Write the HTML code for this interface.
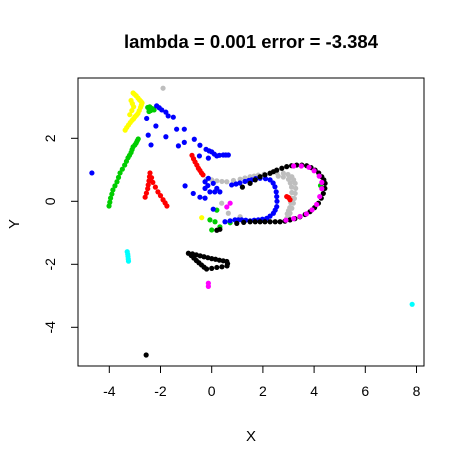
<!DOCTYPE html>
<html><head><meta charset="utf-8"><style>
body{margin:0;background:#fff;}
svg{display:block;font-family:"Liberation Sans",Arial,sans-serif;}
</style></head><body>
<svg id="chart" width="465" height="464">
<text x="251" y="48" text-anchor="middle" font-size="18.5" font-weight="bold">lambda = 0.001 error = -3.384</text>
<rect x="78" y="78" width="346" height="288" fill="none" stroke="#000" stroke-width="1"/>
<g id="xaxis"></g>
<g id="yaxis"></g>
<g id="points"></g>
<text x="251" y="441" text-anchor="middle" font-size="15">X</text>
<text transform="translate(19,224) rotate(-90)" text-anchor="middle" font-size="15">Y</text>
</svg>
<script>
const xTicks=[-4,-2,0,2,4,6,8];
const yTicks=[-4,-2,0,2];
const yellow=[[-3.07,3.44],[-3.02,3.4],[-2.95,3.35],[-2.88,3.28],[-2.82,3.22],[-2.76,3.17],[-2.72,3.12],[-2.75,3.05],[-2.78,2.98],[-2.83,2.88],[-2.88,2.79],[-2.94,2.73],[-3.0,2.68],[-3.05,2.62],[-3.11,2.57],[-3.18,2.5],[-3.25,2.42],[-3.32,2.34],[-3.38,2.26],[-3.15,3.2],[-3.1,3.1],[-3.05,3.0],[-3.12,2.88],[-3.2,2.75],[-0.39,-0.52]];
const green=[[-2.5,2.98],[-2.42,3.0],[-2.35,2.95],[-2.28,2.93],[-2.25,2.9],[-2.45,2.85],[-2.38,2.88],[-2.87,1.98],[-2.91,1.92],[-2.95,1.85],[-3.0,1.79],[-3.07,1.73],[-3.11,1.64],[-3.15,1.55],[-3.21,1.46],[-3.27,1.38],[-3.33,1.27],[-3.4,1.15],[-3.49,1.02],[-3.58,0.9],[-3.64,0.76],[-3.7,0.62],[-3.78,0.49],[-3.86,0.36],[-3.9,0.23],[-3.95,0.1],[-3.98,-0.03],[-4.01,-0.15],[0.2,-0.28],[-0.07,-0.59],[0.13,-0.65],[0.72,-0.68],[0,-0.91],[0.32,-0.81],[1.9,-0.62],[4.25,0.5]];
const gray=[[-1.9,3.59],[-0.2,0.7],[0.0,0.68],[0.2,0.65],[0.4,0.63],[0.59,0.62],[0.85,0.66],[1.11,0.7],[1.3,0.74],[1.5,0.78],[1.66,0.8],[1.82,0.83],[2.05,0.86],[2.28,0.89],[2.55,0.9],[2.8,0.89],[2.98,0.85],[3.13,0.78],[3.2,0.68],[3.26,0.57],[3.28,0.41],[3.26,0.25],[3.23,0.09],[3.19,-0.06],[3.13,-0.22],[3.06,-0.38],[3.0,-0.46],[2.93,-0.54],[2.6,0.8],[2.8,0.77],[3.0,0.7],[3.07,0.58],[3.12,0.45],[3.13,0.28],[3.12,0.1],[3.09,-0.05],[3.05,-0.2],[3.0,-0.3],[2.95,-0.4],[0.39,-0.06],[1.11,-0.49],[0.65,-0.38]];
const blue=[[-4.68,0.9],[-2.15,3.03],[-2.05,2.97],[-1.95,2.9],[-1.79,2.83],[-1.7,2.71],[-1.5,2.67],[-2.54,2.63],[-2.18,2.39],[-1.37,2.29],[-1.07,2.29],[-2.48,2.1],[-1.79,2.05],[-2.37,1.79],[-1.07,1.87],[-1.3,1.76],[-0.68,1.97],[-0.46,1.78],[-0.22,1.65],[-0.48,1.44],[-0.1,1.6],[0,1.57],[0.1,1.5],[0.2,1.44],[0.3,1.46],[0.45,1.47],[0.55,1.47],[0.65,1.47],[-0.13,1.37],[-1.04,0.49],[-0.72,0.25],[-0.46,0.13],[-0.26,0.1],[-0.26,0.62],[-0.13,0.73],[0.06,0.57],[0.2,0.41],[0.32,0.3],[-0.07,0.3],[-0.26,0.41],[-0.15,0.5],[0.12,0.3],[0.78,0.52],[0.95,0.55],[1.1,0.58],[1.3,0.63],[1.45,0.66],[1.56,0.68],[1.72,0.72],[1.89,0.73],[2.1,0.72],[2.28,0.68],[2.4,0.58],[2.47,0.46],[2.52,0.3],[2.54,0.15],[2.55,0.0],[2.54,-0.17],[2.48,-0.28],[2.41,-0.38],[2.28,-0.47],[2.15,-0.54],[1.98,-0.57],[1.82,-0.59],[1.66,-0.6],[1.5,-0.62],[1.33,-0.6],[1.17,-0.59],[1.04,-0.59],[0.91,-0.59],[0.72,-0.62],[0.52,-0.65],[0.06,-0.25]];
const red=[[-2.41,0.9],[-2.43,0.78],[-2.45,0.65],[-2.48,0.52],[-2.5,0.4],[-2.55,0.26],[-2.6,0.13],[-2.35,0.75],[-2.3,0.6],[-2.2,0.45],[-2.1,0.3],[-2.0,0.18],[-1.9,0.05],[-1.82,-0.05],[-1.75,-0.15],[-0.77,1.46],[-0.71,1.35],[-0.65,1.25],[-0.58,1.15],[-0.52,1.05],[-0.46,0.98],[-0.4,0.9],[-0.34,0.84],[2.93,0.15],[3.06,0.05],[3.0,0.12]];
const black=[[1.2,0.45],[1.5,0.57],[1.7,0.68],[1.89,0.78],[2.08,0.84],[2.28,0.89],[2.41,0.94],[2.54,0.99],[2.74,1.05],[2.93,1.1],[3.12,1.13],[3.32,1.15],[3.52,1.15],[3.71,1.13],[3.88,1.07],[4.04,0.99],[4.18,0.9],[4.3,0.78],[4.38,0.68],[4.43,0.57],[4.42,0.41],[4.36,0.25],[4.28,0.1],[4.17,-0.06],[4.02,-0.2],[3.84,-0.33],[3.65,-0.42],[3.45,-0.49],[3.25,-0.55],[3.06,-0.59],[2.86,-0.63],[2.67,-0.65],[2.48,-0.65],[2.28,-0.65],[2.08,-0.65],[1.89,-0.65],[1.7,-0.65],[1.5,-0.65],[1.25,-0.67],[0.98,-0.7],[0.32,-0.89],[0.2,-0.92],[-0.91,-1.65],[-0.75,-1.67],[-0.6,-1.7],[-0.45,-1.73],[-0.3,-1.76],[-0.15,-1.79],[0,-1.82],[0.15,-1.84],[0.3,-1.87],[0.45,-1.89],[0.59,-1.91],[0.62,-1.98],[-0.8,-1.72],[-0.7,-1.8],[-0.6,-1.88],[-0.5,-1.95],[-0.4,-2.02],[-0.3,-2.09],[-0.2,-2.15],[0.0,-2.13],[0.2,-2.1],[0.4,-2.08],[0.6,-2.05],[-2.56,-4.88]];
const magenta=[[3.2,1.12],[3.5,1.12],[3.8,1.08],[4.0,0.97],[4.2,0.8],[4.3,0.6],[4.3,0.4],[4.22,0.15],[4.1,-0.1],[3.92,-0.27],[3.7,-0.4],[3.45,-0.48],[3.2,-0.55],[2.9,-0.6],[0.72,-0.06],[0.59,-0.18],[-0.13,-2.6],[-0.13,-2.7]];
const cyan=[[-3.3,-1.6],[-3.28,-1.68],[-3.27,-1.75],[-3.26,-1.83],[-3.25,-1.9],[7.83,-3.27]];
const series=[["gray",gray,"#bebebe"],["yellow",yellow,"#ffff00"],["green",green,"#00cd00"],["red",red,"#ff0000"],["blue",blue,"#0000ff"],["black",black,"#000000"],["magenta",magenta,"#ff00ff"],["cyan",cyan,"#00ffff"]];
const NS="http://www.w3.org/2000/svg";
function sx(x){return 211.7+x*25.6;}
function sy(y){return 201.3-y*31.5;}
const xa=document.getElementById('xaxis'),ya=document.getElementById('yaxis'),pg=document.getElementById('points');
function mk(t,a){const e=document.createElementNS(NS,t);for(const k in a)e.setAttribute(k,a[k]);return e;}
xTicks.forEach(v=>{
  const l=mk('line',{x1:sx(v),x2:sx(v),y1:366,y2:373,stroke:'#000'});
  
  
  xa.appendChild(l);
  const t=mk('text',{x:sx(v),y:396,'text-anchor':'middle','font-size':'14'});
  t.textContent=v;
  
  
  xa.appendChild(t);
});
yTicks.forEach(v=>{
  const l=mk('line',{x1:71,x2:78,y1:sy(v),y2:sy(v),stroke:'#000'});
  
  
  ya.appendChild(l);
  const t=mk('text',{transform:`translate(55,${sy(v)}) rotate(-90)`,'text-anchor':'middle','font-size':'14'});
  t.textContent=v;
  
  
  ya.appendChild(t);
});
series.forEach(([name,pts,col])=>{
  pts.forEach(p=>{
    const c=mk('circle',{cx:sx(p[0]),cy:sy(p[1]),r:2.6,fill:col});
    
    
    pg.appendChild(c);
  });
});
</script>
</body></html>
